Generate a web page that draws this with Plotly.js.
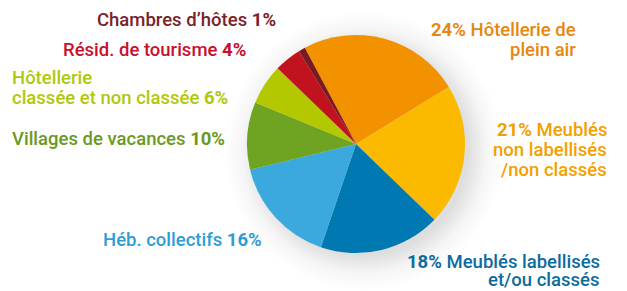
<!DOCTYPE html>
<html><head><meta charset="utf-8">
<script src="https://cdn.plot.ly/plotly-3.0.1.min.js"></script>
<style>html,body{margin:0;padding:0;background:#fff}
#chart{width:627px;height:291px;background:radial-gradient(circle at 364px 151px, rgba(0,0,0,0.13) 104px, rgba(0,0,0,0.04) 122px, rgba(0,0,0,0) 140px), #fff}</style>
</head><body><div id="chart"></div>
<script>
const categories = ["Hôtellerie de plein air","Meublés non labellisés /non classés","Meublés labellisés et/ou classés","Héb. collectifs","Villages de vacances","Hôtellerie classée et non classée","Résid. de tourisme","Chambres d'hôtes"];
const values = [24, 21, 18, 16, 10, 6, 4, 1];
const sliceColors = ["#F39200","#FBB900","#0079B2","#3BA9DD","#6FA422","#B3C800","#C1121F","#7A1A1E"];
const textColors = ["#E8870E","#F2A000","#0C6C9E","#2E9DD6","#6A9A20","#AFC80C","#C8102E","#7B2228"];
const labelLines = [
  ["<b>24%</b> Hôtellerie de","plein air"],
  ["<b>21%</b> Meublés","non labellisés","/non classés"],
  ["<b>18%</b> Meublés labellisés","et/ou classés"],
  ["Héb. collectifs <b>16%</b>"],
  ["Villages de vacances <b>10%</b>"],
  ["Hôtellerie","classée et non classée <b>6%</b>"],
  ["Résid. de tourisme <b>4%</b>"],
  ["Chambres d’hôtes <b>1%</b>"]
];
// [x px, first line center y px, xanchor, line spacing px]
const labelPos = [
  [577, 30, "right", 20],
  [608, 130, "right", 20],
  [601, 262, "right", 18],
  [102, 240, "left", 20],
  [11, 139, "left", 20],
  [11, 78, "left", 20],
  [62, 50, "left", 20],
  [96, 20, "left", 20]
];
const W = 627, H = 291;
const annotations = [];
labelLines.forEach((lines, i) => {
  lines.forEach((t, j) => {
    annotations.push({
      xref: "paper", yref: "paper",
      x: labelPos[i][0] / W, y: 1 - (labelPos[i][1] + j * labelPos[i][3]) / H,
      xanchor: labelPos[i][2], yanchor: "middle",
      text: t, showarrow: false, borderpad: 0,
      font: {family: "Roboto, 'Open Sans', sans-serif", size: 18.5, weight: 500, color: textColors[i]}
    });
  });
});
const cx = 356, cy = 144, r = 109;
Plotly.newPlot("chart", [{
  type: "pie",
  labels: categories,
  values: values,
  sort: false,
  direction: "clockwise",
  rotation: -28,
  marker: {colors: sliceColors, line: {width: 0}},
  textinfo: "none",
  hoverinfo: "none",
  showlegend: false,
  domain: {x: [(cx - r) / W, (cx + r) / W], y: [(H - cy - r) / H, (H - cy + r) / H]}
}], {
  width: W, height: H,
  margin: {l: 0, r: 0, t: 0, b: 0},
  paper_bgcolor: "rgba(0,0,0,0)",
  plot_bgcolor: "rgba(0,0,0,0)",
  showlegend: false,
  annotations: annotations
}, {staticPlot: true});
</script></body></html>
